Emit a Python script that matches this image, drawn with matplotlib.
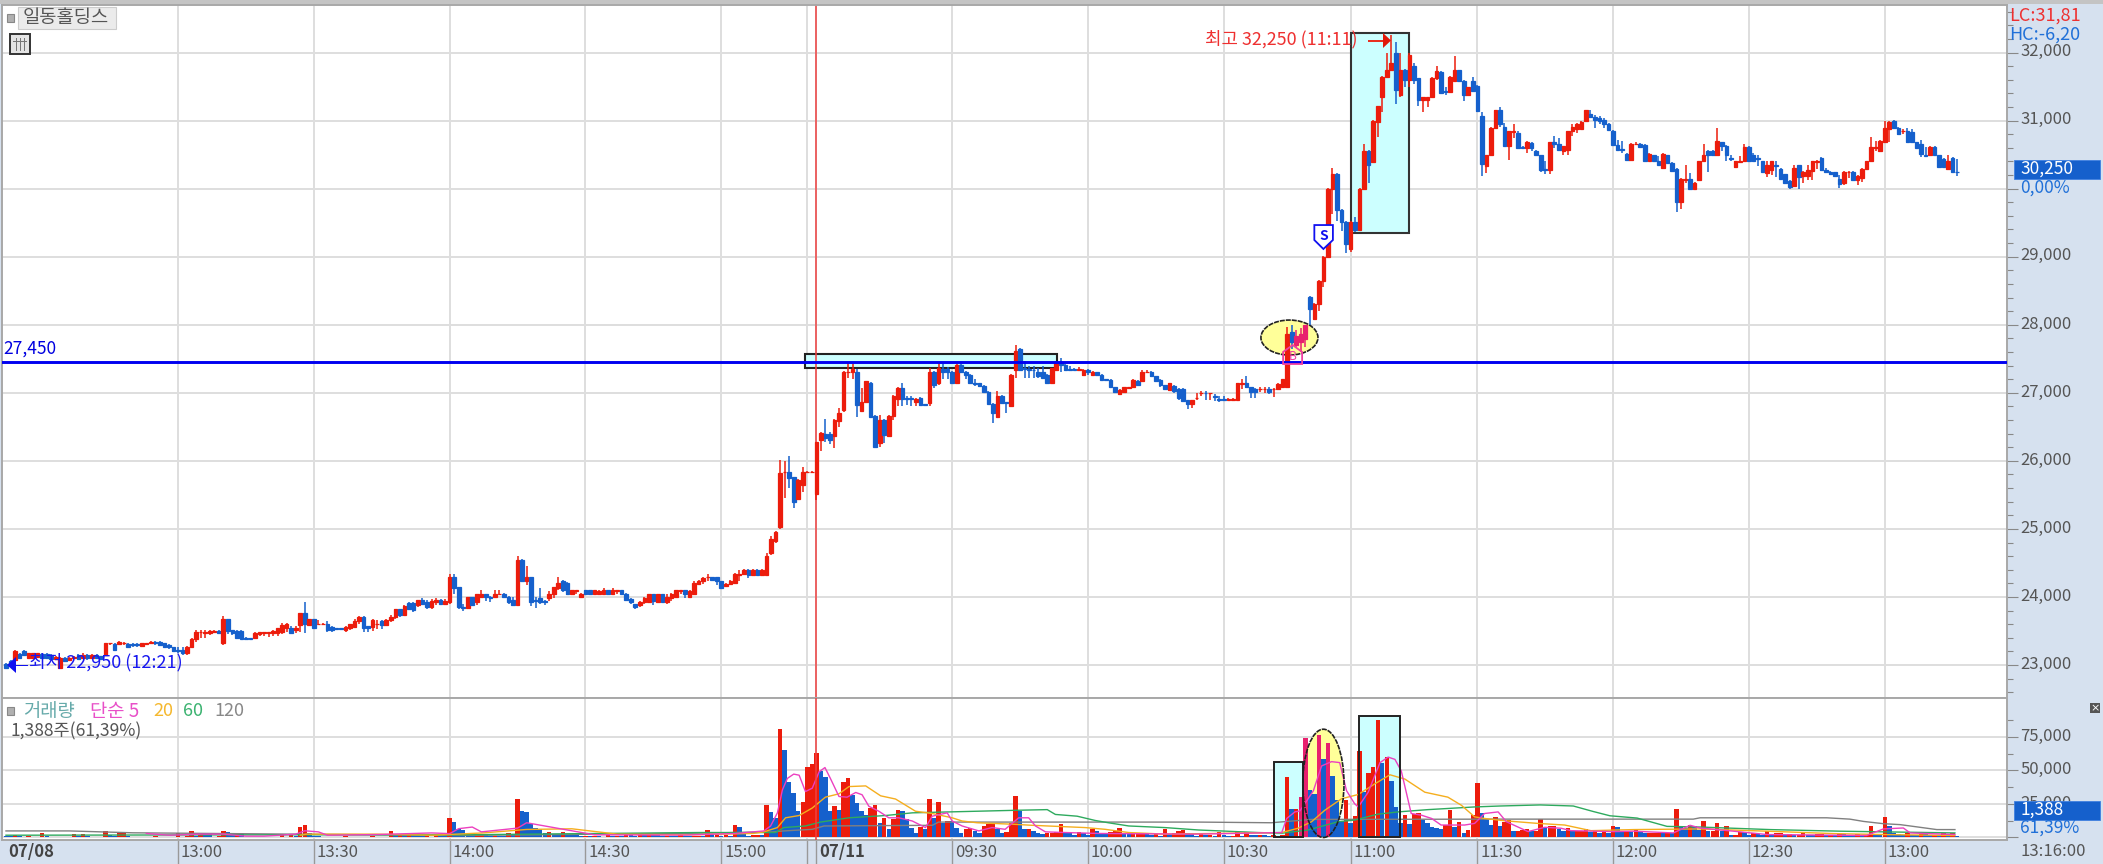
import matplotlib
matplotlib.use("Agg")
from matplotlib import pyplot as plt
from matplotlib.patches import Rectangle, Ellipse, Polygon
from matplotlib.transforms import ScaledTranslation

plt.rcParams['font.family'] = ['Noto Sans CJK KR', 'DejaVu Sans']

# 1분봉 시가/종가/고가/저가 (07/08 ~ 07/11)
opens = [
    23020, 23060, 23080, 23160, 23200, 23110, 23100, 23120, 23160, 23160,
    23150, 23090, 22950, 23110, 23080, 23110, 23150, 23100, 23150, 23110,
    23150, 23130, 23150, 23320, 23310, 23310, 23320, 23310, 23310, 23310,
    23280, 23310, 23330, 23340, 23340, 23320, 23300, 23260, 23220, 23220,
    23170, 23270, 23390, 23480, 23470, 23470, 23490, 23500, 23320, 23670,
    23510, 23500, 23500, 23400, 23400, 23400, 23450, 23470, 23470, 23470,
    23470, 23490, 23540, 23550, 23510, 23590, 23760, 23590, 23670, 23600,
    23600, 23610, 23560, 23540, 23540, 23510, 23540, 23560, 23650, 23710,
    23570, 23560, 23600, 23650, 23590, 23660, 23710, 23820, 23730, 23910,
    23910, 23880, 23950, 23930, 23850, 23920, 23960, 23900, 23920, 24290,
    24140, 23860, 23840, 24000, 23920, 24000, 24050, 24000, 24000, 24040,
    24050, 24000, 23950, 23880, 24550, 24230, 24290, 23950, 23990, 23940,
    23990, 24040, 24130, 24240, 24210, 24040, 24090, 24000, 24100, 24100,
    24050, 24050, 24050, 24100, 24050, 24090, 24100, 24050, 23970, 23890,
    23880, 23920, 23930, 24050, 23930, 24050, 23930, 23990, 24000, 24090,
    24100, 24000, 24040, 24190, 24230, 24290, 24290, 24290, 24230, 24160,
    24190, 24210, 24330, 24340, 24400, 24320, 24400, 24320, 24320, 24640,
    24830, 25030, 25830, 25840, 25760, 25440, 25650, 25830, 25830, 25510,
    26300, 26400, 26400, 26360, 26590, 26750, 27300, 27310, 27310, 26740,
    26860, 27150, 26660, 26260, 26600, 26360, 26660, 26910, 27070, 26920,
    26920, 26860, 26930, 26830, 26850, 27310, 27140, 27350, 27350, 27310,
    27140, 27410, 27310, 27260, 27140, 27140, 27100, 27010, 26840, 26650,
    26960, 26860, 26810, 27340, 27650, 27370, 27350, 27340, 27310, 27310,
    27260, 27140, 27340, 27460, 27410, 27350, 27350, 27340, 27260, 27340,
    27260, 27300, 27260, 27200, 27190, 27080, 26980, 27010, 27070, 27080,
    27180, 27180, 27300, 27310, 27240, 27190, 27110, 27040, 27100, 27060,
    27060, 26890, 26830, 26920, 26990, 27000, 26990, 26950, 26910, 26910,
    26900, 26900, 26900, 27130, 27140, 27080, 27060, 27050, 27050, 27060,
    27050, 27060, 27090, 27090, 27890, 27700, 27740, 27790, 28410, 28090,
    28300, 28650, 29000, 30000, 30220, 29680, 29510, 29120, 29510, 29390,
    30000, 30560, 30390, 30980, 31350, 31640, 31750, 32000, 31370, 31750,
    31590, 31800, 31620, 31300, 31300, 31340, 31620, 31720, 31430, 31420,
    31580, 31740, 31580, 31370, 31580, 31510, 31070, 30330, 30490, 30890,
    31150, 30900, 30630, 30830, 30810, 30610, 30600, 30670, 30560, 30490,
    30290, 30280, 30690, 30660, 30560, 30570, 30840, 30880, 30880, 31000,
    31100, 31050, 31040, 31010, 30950, 30850, 30640, 30580, 30510, 30420,
    30650, 30660, 30640, 30410, 30490, 30410, 30300, 30490, 30380, 30290,
    29800, 30130, 30140, 30000, 30130, 30400, 30560, 30560, 30490, 30680,
    30630, 30450, 30320, 30390, 30400, 30610, 30490, 30450, 30400, 30230,
    30270, 30340, 30290, 30210, 30110, 30040, 30340, 30190, 30190, 30260,
    30390, 30450, 30270, 30250, 30240, 30140, 30090, 30240, 30250, 30130,
    30160, 30290, 30400, 30600, 30550, 30680, 30880, 31000, 30890, 30840,
    30850, 30830, 30680, 30660, 30490, 30490, 30610, 30490, 30440, 30290,
    30450, 30250,
]
closes = [
    22950, 23000, 23210, 23100, 23150, 23170, 23170, 23170, 23100, 23100,
    23090, 23120, 23110, 23060, 23110, 23120, 23090, 23150, 23100, 23150,
    23110, 23090, 23320, 23330, 23220, 23340, 23330, 23270, 23300, 23300,
    23320, 23320, 23340, 23320, 23300, 23270, 23260, 23210, 23210, 23170,
    23270, 23390, 23490, 23490, 23490, 23500, 23500, 23470, 23680, 23500,
    23470, 23400, 23390, 23390, 23390, 23470, 23480, 23480, 23480, 23500,
    23540, 23590, 23600, 23470, 23550, 23760, 23600, 23670, 23550, 23610,
    23610, 23510, 23510, 23530, 23530, 23560, 23600, 23650, 23710, 23540,
    23540, 23660, 23610, 23590, 23660, 23710, 23820, 23730, 23870, 23820,
    23810, 23950, 23900, 23850, 23940, 23960, 23890, 23940, 24290, 24130,
    23850, 23840, 24000, 23880, 24040, 24050, 24000, 23990, 24050, 24050,
    24000, 23930, 23880, 24550, 24230, 24290, 23930, 23940, 23930, 23930,
    24050, 24140, 24210, 24110, 24040, 24100, 24100, 24050, 24050, 24050,
    24100, 24090, 24100, 24050, 24100, 24100, 24050, 23960, 23920, 23860,
    23920, 23990, 24050, 23940, 24050, 23930, 24000, 24050, 24100, 24100,
    24040, 24090, 24210, 24240, 24280, 24300, 24250, 24230, 24130, 24190,
    24240, 24340, 24340, 24400, 24320, 24400, 24320, 24400, 24600, 24850,
    24960, 25820, 25840, 25750, 25400, 25720, 25840, 25840, 25840, 26270,
    26410, 26330, 26300, 26600, 26710, 27310, 27310, 27350, 26820, 26870,
    27170, 26650, 26200, 26600, 26380, 26660, 26960, 27070, 26910, 26910,
    26910, 26910, 26820, 26820, 27310, 27120, 27360, 27310, 27310, 27140,
    27410, 27310, 27260, 27140, 27130, 27100, 27010, 26840, 26700, 26960,
    26850, 26850, 27260, 27620, 27340, 27350, 27340, 27330, 27240, 27220,
    27140, 27360, 27460, 27410, 27340, 27340, 27340, 27350, 27340, 27310,
    27310, 27260, 27190, 27190, 27080, 27010, 27040, 27080, 27080, 27190,
    27120, 27300, 27310, 27240, 27170, 27110, 27060, 27140, 27020, 26920,
    26880, 26830, 26890, 26930, 27000, 26990, 27000, 26940, 26900, 26900,
    26910, 26910, 27140, 27140, 27090, 27010, 27010, 27060, 27060, 27010,
    27060, 27130, 27200, 27870, 27740, 27840, 27870, 27990, 28230, 28310,
    28650, 29000, 30000, 30220, 29690, 29510, 29190, 29510, 29390, 30000,
    30560, 30340, 31000, 31210, 31640, 31750, 31840, 31450, 31750, 31600,
    31960, 31590, 31300, 31340, 31340, 31630, 31730, 31410, 31420, 31640,
    31740, 31580, 31370, 31490, 31440, 31140, 30360, 30490, 30890, 31150,
    30950, 30630, 30840, 30840, 30600, 30600, 30690, 30590, 30490, 30280,
    30280, 30680, 30660, 30570, 30620, 30840, 30900, 30950, 30980, 31150,
    31050, 31010, 31000, 30950, 30860, 30640, 30570, 30570, 30420, 30660,
    30660, 30610, 30410, 30510, 30410, 30350, 30510, 30380, 30260, 29800,
    30140, 30140, 30000, 30090, 30400, 30500, 30490, 30490, 30700, 30630,
    30490, 30440, 30400, 30400, 30610, 30400, 30400, 30440, 30240, 30340,
    30400, 30330, 30140, 30090, 30030, 30310, 30170, 30250, 30270, 30400,
    30400, 30270, 30250, 30210, 30190, 30070, 30250, 30250, 30130, 30190,
    30290, 30400, 30610, 30610, 30700, 30890, 30980, 30890, 30800, 30850,
    30680, 30680, 30600, 30510, 30480, 30610, 30490, 30320, 30320, 30400,
    30240, 30240,
]
highs = [
    23030, 23070, 23220, 23170, 23220, 23180, 23180, 23170, 23170, 23170,
    23160, 23130, 23120, 23120, 23120, 23130, 23160, 23170, 23160, 23160,
    23160, 23140, 23320, 23330, 23320, 23350, 23340, 23320, 23330, 23320,
    23330, 23330, 23360, 23350, 23360, 23330, 23310, 23270, 23260, 23260,
    23280, 23400, 23510, 23510, 23510, 23510, 23510, 23510, 23720, 23680,
    23520, 23510, 23510, 23410, 23400, 23490, 23490, 23490, 23490, 23510,
    23550, 23620, 23620, 23570, 23570, 23770, 23920, 23680, 23680, 23660,
    23620, 23640, 23570, 23550, 23550, 23570, 23610, 23680, 23720, 23720,
    23580, 23670, 23660, 23660, 23670, 23730, 23830, 23830, 23880, 23930,
    23920, 23960, 23980, 23960, 23970, 23980, 23970, 23970, 24340, 24340,
    24150, 23890, 24000, 24000, 24040, 24100, 24050, 24010, 24100, 24100,
    24060, 24010, 24000, 24600, 24560, 24450, 24300, 24000, 24130, 23960,
    24090, 24150, 24290, 24250, 24220, 24100, 24100, 24060, 24100, 24110,
    24110, 24110, 24130, 24110, 24130, 24100, 24100, 24060, 23980, 23900,
    23940, 24000, 24050, 24050, 24050, 24050, 24050, 24060, 24100, 24110,
    24110, 24100, 24240, 24250, 24300, 24340, 24300, 24300, 24240, 24200,
    24250, 24350, 24400, 24410, 24410, 24410, 24410, 24410, 24650, 24900,
    24970, 26010, 26000, 26070, 25770, 25730, 25910, 25850, 25850, 26280,
    26420, 26610, 26420, 26610, 26770, 27320, 27440, 27420, 27350, 27070,
    27180, 27160, 26670, 26680, 26610, 26670, 26970, 27080, 27150, 26960,
    26960, 26920, 26940, 26840, 27360, 27320, 27440, 27420, 27380, 27320,
    27420, 27420, 27320, 27270, 27200, 27150, 27110, 27020, 26850, 27020,
    26970, 26870, 27270, 27700, 27660, 27470, 27390, 27390, 27370, 27390,
    27270, 27370, 27470, 27510, 27420, 27390, 27360, 27380, 27350, 27350,
    27320, 27310, 27270, 27210, 27200, 27090, 27050, 27090, 27090, 27200,
    27190, 27340, 27340, 27320, 27250, 27200, 27120, 27150, 27110, 27070,
    27070, 26900, 26900, 27000, 27020, 27020, 27000, 26980, 26960, 26950,
    26920, 26920, 27150, 27200, 27250, 27090, 27070, 27080, 27080, 27080,
    27070, 27140, 27210, 27970, 27990, 27920, 27950, 28000, 28420, 28320,
    28660, 29010, 30010, 30300, 30230, 29700, 29520, 29520, 29580, 30010,
    30660, 30570, 31010, 31220, 31650, 32000, 32250, 32150, 32000, 31760,
    32000, 31850, 31630, 31350, 31350, 31640, 31800, 31730, 31500, 31650,
    31950, 31750, 31590, 31500, 31640, 31520, 31130, 30500, 30900, 31160,
    31200, 30970, 30850, 30950, 30850, 30620, 30700, 30680, 30570, 30500,
    30400, 30690, 30780, 30740, 30630, 30850, 30950, 30960, 31000, 31160,
    31150, 31080, 31070, 31040, 30960, 30860, 30720, 30700, 30520, 30670,
    30680, 30670, 30650, 30520, 30500, 30480, 30520, 30500, 30390, 30300,
    30150, 30340, 30230, 30100, 30410, 30660, 30570, 30570, 30890, 30690,
    30640, 30490, 30410, 30480, 30660, 30620, 30520, 30490, 30410, 30400,
    30410, 30410, 30300, 30220, 30120, 30340, 30350, 30260, 30340, 30410,
    30420, 30460, 30300, 30260, 30250, 30200, 30260, 30260, 30260, 30200,
    30300, 30410, 30760, 30700, 30710, 31000, 31000, 31010, 30900, 30880,
    30890, 30880, 30690, 30710, 30610, 30620, 30620, 30500, 30450, 30490,
    30460, 30430,
]
lows = [
    22950, 22990, 23070, 23090, 23140, 23100, 23090, 23110, 23090, 23090,
    23070, 23080, 22950, 23050, 23070, 23090, 23080, 23090, 23080, 23100,
    23100, 23090, 23140, 23300, 23200, 23300, 23300, 23260, 23270, 23270,
    23270, 23290, 23320, 23300, 23290, 23260, 23240, 23190, 23180, 23150,
    23150, 23260, 23340, 23400, 23400, 23440, 23470, 23450, 23290, 23450,
    23440, 23390, 23380, 23390, 23390, 23380, 23420, 23420, 23410, 23430,
    23430, 23460, 23490, 23460, 23470, 23480, 23470, 23570, 23540, 23590,
    23590, 23490, 23490, 23510, 23510, 23490, 23510, 23540, 23600, 23490,
    23480, 23500, 23530, 23530, 23580, 23630, 23680, 23700, 23720, 23810,
    23780, 23860, 23880, 23830, 23830, 23880, 23880, 23880, 23900, 24040,
    23830, 23790, 23830, 23870, 23880, 23980, 23940, 23930, 23990, 24030,
    23990, 23890, 23880, 23870, 24220, 24180, 23870, 23840, 23890, 23880,
    23940, 23990, 24100, 24080, 24030, 24030, 24040, 23990, 24050, 24040,
    24040, 24040, 24040, 24040, 24040, 24050, 24040, 23950, 23890, 23830,
    23860, 23900, 23920, 23880, 23930, 23930, 23900, 23940, 23980, 24040,
    23980, 23980, 24030, 24180, 24190, 24240, 24240, 24180, 24120, 24150,
    24180, 24200, 24230, 24330, 24280, 24310, 24310, 24320, 24320, 24620,
    24790, 25000, 25450, 25600, 25310, 25420, 25550, 25830, 25830, 25430,
    26150, 26280, 26250, 26190, 26500, 26720, 27220, 27210, 26650, 26730,
    26850, 26640, 26190, 26200, 26260, 26350, 26600, 26810, 26800, 26820,
    26810, 26800, 26800, 26810, 26810, 27070, 27120, 27210, 27210, 27130,
    27130, 27300, 27200, 27130, 27100, 27090, 27000, 26830, 26550, 26640,
    26840, 26700, 26800, 27220, 27330, 27220, 27220, 27220, 27220, 27210,
    27130, 27130, 27330, 27310, 27320, 27320, 27330, 27330, 27250, 27260,
    27250, 27240, 27180, 27180, 27070, 26990, 26970, 27000, 27060, 27070,
    27110, 27170, 27290, 27230, 27160, 27080, 27040, 27030, 27000, 26900,
    26870, 26760, 26780, 26890, 26950, 26890, 26900, 26880, 26870, 26890,
    26890, 26890, 26890, 27050, 27070, 26930, 26930, 27010, 26990, 26980,
    26940, 27050, 27080, 27080, 27650, 27680, 27600, 27680, 28000, 28070,
    28200, 28550, 28990, 29620, 29520, 29380, 29050, 29070, 29370, 29380,
    29990, 30080, 30380, 30760, 31130, 31630, 31740, 31250, 31340, 31500,
    31500, 31530, 31210, 31130, 31200, 31330, 31600, 31400, 31380, 31410,
    31570, 31570, 31290, 31360, 31430, 31130, 30190, 30230, 30480, 30880,
    30900, 30620, 30420, 30740, 30590, 30590, 30530, 30550, 30480, 30250,
    30220, 30220, 30600, 30560, 30500, 30500, 30780, 30820, 30870, 30990,
    31040, 30890, 30950, 30890, 30850, 30630, 30560, 30530, 30410, 30410,
    30640, 30600, 30400, 30400, 30400, 30340, 30290, 30370, 30250, 29650,
    29700, 30090, 29990, 29990, 30120, 30390, 30240, 30480, 30480, 30560,
    30400, 30400, 30310, 30380, 30390, 30390, 30390, 30330, 30230, 30170,
    30200, 30170, 30130, 30080, 30000, 30030, 30000, 30080, 30130, 30130,
    30290, 30260, 30240, 30200, 30180, 30010, 30060, 30160, 30120, 30060,
    30100, 30280, 30390, 30550, 30540, 30670, 30680, 30880, 30790, 30800,
    30670, 30670, 30590, 30460, 30470, 30480, 30480, 30310, 30310, 30280,
    30230, 30190,
]

# 거래량
volumes = [
    1200, 800, 1500, 800, 700, 800, 600, 700, 3700, 1100,
    600, 500, 700, 600, 500, 2500, 800, 2500, 900, 600,
    500, 400, 5000, 1500, 800, 3000, 3000, 900, 600, 500,
    500, 700, 500, 800, 500, 600, 500, 400, 3700, 600,
    1000, 4700, 1200, 3000, 2900, 2800, 500, 1000, 4700, 4000,
    2800, 2800, 2500, 700, 500, 600, 400, 600, 500, 400,
    500, 2500, 700, 2500, 900, 7800, 9000, 3000, 1000, 900,
    700, 500, 600, 500, 400, 800, 500, 600, 400, 700,
    600, 800, 700, 500, 600, 5000, 2000, 2500, 1800, 2400,
    1800, 1500, 800, 1200, 700, 1800, 1000, 900, 14700, 11500,
    6600, 5500, 3000, 1000, 1500, 2500, 1500, 1000, 1200, 900,
    800, 3000, 1500, 29000, 20000, 19000, 10000, 7000, 6000, 3000,
    4000, 2000, 1500, 3800, 2500, 2000, 1500, 900, 1000, 800,
    1000, 800, 700, 1500, 800, 1000, 900, 1800, 1500, 1000,
    2000, 1500, 2500, 2000, 1500, 900, 1200, 1000, 800, 1500,
    1000, 800, 900, 1200, 900, 5600, 1500, 2000, 900, 1500,
    1200, 9000, 7800, 3700, 1200, 2000, 2000, 1800, 24500, 18900,
    14700, 81300, 65000, 41600, 33000, 19600, 26200, 52700, 55100, 63000,
    49500, 45300, 19600, 23300, 20800, 41600, 44100, 31800, 25700, 19600,
    17000, 22000, 24500, 11000, 14700, 6600, 13500, 20800, 19600, 13500,
    7350, 3700, 7800, 6100, 28700, 14700, 26200, 11000, 12250, 12000,
    7350, 3700, 6100, 7350, 4900, 3700, 8600, 9800, 11000, 6100,
    3700, 4400, 11000, 31100, 19600, 6100, 6100, 4900, 3700, 2500,
    3700, 3700, 4200, 9800, 3700, 3200, 1700, 4200, 3700, 1700,
    6100, 5000, 3700, 3400, 4200, 4900, 7350, 3700, 2500, 2500,
    3700, 3700, 2500, 2000, 2500, 1200, 6600, 2500, 3700, 4900,
    5600, 3200, 2500, 1200, 2500, 1500, 2000, 1200, 4000, 2000,
    1200, 1200, 4000, 800, 4000, 2000, 1700, 2000, 1500, 1200,
    1700, 1200, 1700, 44800, 21600, 21600, 30000, 74000, 35500, 32600,
    76700, 58300, 70600, 46100, 27700, 12000, 28200, 11000, 15900, 64900,
    33800, 48500, 52700, 87700, 55900, 60000, 42400, 22800, 10500, 17150,
    9800, 17900, 18000, 13000, 10500, 8000, 7000, 6100, 9300, 20800,
    8000, 11800, 3700, 5600, 16700, 40400, 18400, 14000, 9300, 15000,
    8300, 11800, 13000, 4500, 4600, 5600, 6400, 4600, 4600, 13700,
    7000, 8300, 8300, 6600, 4600, 7000, 4600, 4600, 4600, 6600,
    4000, 4600, 3500, 4600, 3500, 8800, 7600, 4600, 4600, 4000,
    6600, 3900, 3500, 3500, 3500, 3500, 3000, 3500, 3000, 21000,
    8300, 7000, 9500, 8300, 5800, 12000, 4600, 4600, 10800, 4600,
    8800, 1500, 1500, 4200, 4000, 2000, 3000, 2500, 2000, 4600,
    2500, 3000, 3700, 2000, 2500, 1500, 2000, 3000, 1700, 1500,
    2500, 2700, 1700, 2000, 1500, 2500, 2300, 2000, 1500, 2500,
    1700, 2000, 8300, 2500, 2000, 15200, 8300, 3700, 2500, 2000,
    3000, 2000, 1500, 2500, 2300, 1800, 2000, 1500, 3000, 2500,
    3000, 1388,
]

# 거래량 이동평균선 (그림에서 읽은 점들)
ma5_x = [31, 36, 43, 48, 53, 57, 64, 66, 69, 71, 82, 94, 98, 100, 103, 105,
         113, 115, 120, 130, 150, 161, 167.4, 168.9, 170.4, 171.5, 172.6, 174, 175.2, 176.6,
         178.1, 179.6, 180.9, 182.1, 184, 185.8, 187.7, 189.1, 190.6, 192.8,
         195, 197.2, 200.2, 203.1, 204.6, 207.9, 209, 211.2, 214.9, 217.8,
         220.7, 223.7, 225.9, 227.4, 229.6, 234, 241.4, 262.7, 281.8, 282.9,
         284.7, 285.8, 286.9, 288.8, 290.6, 292.8, 294.6, 296.1, 297.9, 298.7,
         300.9, 303.5, 305.3, 306.8, 308.2, 310.4, 312.6, 314.9, 317, 322.2,
         324.4, 326.6, 329.6, 331.4, 336.2, 339.9, 343.5, 345.7, 355.3, 359.5,
         368.3, 372, 374.2, 381.6, 389, 411, 414.7, 419.1, 420.6, 430.5]
ma5_y = [3000, 1700, 2500, 2500, 1000, 1000, 2500, 5000, 4200, 1700, 2200, 3400, 2900, 6600, 7800, 4200,
         7000, 11000, 8000, 2000, 1800, 3000, 4900, 8600, 18400, 35500, 44100, 47300, 46500, 34300,
         36800, 49000, 52200, 44100, 30600, 30100, 33600, 31900, 23300, 19600,
         14700, 14700, 12300, 7400, 15900, 18400, 12300, 8600, 4900, 7400,
         6100, 14700, 14700, 8600, 4200, 3700, 3000, 2500, 3700, 14200,
         19100, 19800, 25200, 35000, 53400, 56600, 55900, 35000, 25200, 22800,
         33800, 55900, 60000, 58300, 49700, 17900, 16700, 14200, 9300, 9300,
         10500, 17900, 19100, 11800, 4400, 7600, 6900, 5100, 4400, 4700,
         3400, 9100, 7100, 4700, 2200, 1500, 6400, 7100, 3400, 2200]
ma20_x = [65, 66.3, 81.8, 94.3, 105.3, 115, 125, 135, 150, 165,
          167.4, 170.4, 172.2, 175.2, 178.1, 181, 184, 186.2, 189.9, 193.2,
          196.5, 200.9, 204.6, 209, 211.2, 214.5, 223, 226.6, 238.4, 242.8,
          248, 256, 281.8, 285.4, 288.4, 291.3, 295, 298.7, 302.3, 305.7,
          309, 313.4, 318.5, 321.5, 324.4, 326.6, 331, 338.4, 344.3, 350.1,
          359.5, 374.2, 389, 403.7, 414.7, 430.5]
ma20_y = [1700, 2500, 2500, 1700, 3400, 6000, 6500, 2500, 2000, 3000,
          4200, 7400, 14700, 16400, 22000, 30100, 32600, 38000, 38500, 31100,
          28700, 19600, 17900, 14700, 12300, 11000, 9800, 9100, 7400, 6100,
          3700, 2500, 3700, 6900, 11800, 20300, 28900, 32100, 39900, 46800,
          43600, 33800, 30100, 24000, 15400, 14200, 12500, 10500, 9300, 5100,
          5900, 6400, 4700, 2900, 2200, 1500]
ma60_x = [0, 60, 100, 153, 170, 171.8, 176.6, 179.9, 186.2, 194.3,
          200.2, 206, 223, 230, 231.8, 236.6, 240.6, 243.5, 248, 256,
          263.4, 276.6, 281.8, 287.6, 294.3, 297.9, 303, 307.5, 314.1, 324.4,
          330, 338.9, 346.2, 350.6, 354.3, 360.3, 366.9, 374.2, 389.7, 405.2, 430.5]
ma60_y = [1700, 2000, 2000, 3700, 3700, 7400, 8600, 11500, 14700, 16400,
          18400, 18900, 20300, 20800, 17200, 15900, 12700, 11000, 8600, 7400,
          5600, 3700, 3200, 5600, 11800, 13000, 17400, 19100, 20800, 22800,
          23500, 24300, 23500, 19400, 16200, 14500, 8300, 7800, 5900, 4700, 3400]
ma120_x = [0, 14, 28, 100, 153, 169.3, 171.8, 178.1, 180.7, 204.6, 206,
           263.4, 279.5, 288.4, 330, 372.7, 374.2, 402.2, 407.3, 410.3,
           414.7, 418.4, 422.8, 426.5, 430.5]
ma120_y = [4900, 4900, 3500, 1500, 3200, 4200, 4900, 6100, 8600, 9100, 11500,
           11500, 11000, 13500, 13700, 13700, 14700, 14700, 13700, 12000,
           10300, 9600, 7600, 5900, 5900]

# 축 눈금
time_ticks = [38, 68, 98, 128, 158, 177, 179, 209, 239, 269, 297, 325, 355, 385, 415]
date_labels = {-0.2: "07/08", 179: "07/11"}
time_labels = {38: "13:00", 68: "13:30", 98: "14:00", 128: "14:30", 158: "15:00",
               209: "09:30", 239: "10:00", 269: "10:30", 297: "11:00", 325: "11:30",
               355: "12:00", 385: "12:30", 415: "13:00"}
price_ticks = [23000, 24000, 25000, 26000, 27000, 28000, 29000, 30000, 31000, 32000]
# 30,000 자리는 0,00% 글자가 차지한다
price_labels = ["23,000", "24,000", "25,000", "26,000", "27,000", "28,000", "29,000", "", "31,000", "32,000"]
vol_ticks = [0, 25000, 50000, 75000]

W, H = 2103, 864
RED = "#EC1C0C"
BLUE = "#1560CC"
PINK = "#E8206E"
PANEL = "#D6E1EF"
GRID = "#DEDEDE"
GRAY = "#555555"
XLIM = (-0.88, 442)


def px_axes(x0, y0, x1, y1):
    return fig.add_axes([x0 / W, 1 - y1 / H, (x1 - x0) / W, (y1 - y0) / H])


def px_text(x, y, s, **kw):
    kw.setdefault("va", "center")
    kw.setdefault("zorder", 7)
    fig.text(x / W, 1 - y / H, s, **kw)


def px_box(x0, y0, x1, y1, **kw):
    fig.add_artist(Rectangle((x0 / W, 1 - y1 / H), (x1 - x0) / W, (y1 - y0) / H,
                             transform=fig.transFigure, **kw))


fig = plt.figure(figsize=(W / 100, H / 100), dpi=100, facecolor=PANEL)
px_box(0, 0, W, 4, facecolor="#C4C4C4", edgecolor="none", zorder=3)

ax = px_axes(2, 5, 2007, 698)
vax = px_axes(2, 698, 2007, 840)

x = list(range(len(closes)))

# ---------- 가격 차트 ----------
ax.set_xlim(*XLIM)
ax.set_ylim(22516, 32698)
ax.add_patch(Rectangle((297.1, 29352), 12.8, 2935, facecolor="#CCFFFF", edgecolor="#333333", lw=1.5, zorder=1))
ax.add_patch(Rectangle((176.4, 27369), 55.7, 201, facecolor="#CCFFFF", edgecolor="#222222", lw=1.5, zorder=1))
ax.add_patch(Ellipse((283.5, 27812), 12.6, 514, facecolor="#FFFF99", edgecolor="#222222", lw=1.2, ls=(0, (3, 0.6)), zorder=1))
ax.axvline(179, color="#F04040", lw=1.1, zorder=1.5)

colors = [RED if c >= o else BLUE for o, c in zip(opens, closes)]
for i in [284, 285, 286, 287]:
    if colors[i] == RED:
        colors[i] = PINK
ax.vlines(x, lows, highs, colors=colors, lw=1.1, zorder=2)
ax.bar(x, [abs(c - o) for o, c in zip(opens, closes)], bottom=[min(o, c) for o, c in zip(opens, closes)],
       width=0.8, color=colors, edgecolor=colors, lw=0.9, zorder=2.5)

ax.axhline(27450, color="#0000F0", lw=2.1, zorder=4)

# S, B 표시
ax.add_patch(Polygon([(289, 29465), (293.1, 29465), (293.1, 29245), (291, 29113), (289, 29245)],
                     facecolor="white", edgecolor="#1010F0", lw=1.3, zorder=5))
ax.text(291.05, 29310, "S", color="#1010F0", fontsize=10, fontweight="bold", ha="center", va="center", zorder=6)
ax.add_patch(Polygon([(282.1, 27423), (282.1, 27600), (284.2, 27702), (286.3, 27600), (286.3, 27423)],
                     facecolor="none", edgecolor="#F040A0", lw=1.3, zorder=5))
ax.text(284.2, 27530, "B", color="#F040A0", fontsize=8.5, ha="center", va="center", zorder=6)

ax.set_yticks(price_ticks)
ax.set_yticklabels(price_labels, fontsize=12, color=GRAY)
ax.set_yticks(range(22600, 32700, 200), minor=True)
ax.yaxis.tick_right()
ax.tick_params(axis="y", which="major", length=8, width=0.8, color="#888888", pad=1.5)
ax.tick_params(axis="y", which="minor", length=4, width=0.8, color="#888888")
ax.set_xticks(time_ticks)
ax.tick_params(axis="x", length=0, labelbottom=False)
ax.grid(True, which="major", color=GRID, lw=1.4, zorder=0)
ax.set_axisbelow(True)

# ---------- 거래량 차트 ----------
vax.set_xlim(*XLIM)
vax.set_ylim(-1870, 104100)
vax.add_patch(Rectangle((280, 0), 6.4, 56150, facecolor="#CCFFFF", edgecolor="none", zorder=1))
vax.add_patch(Rectangle((298.9, 0), 9, 90700, facecolor="#CCFFFF", edgecolor="none", zorder=1))
vax.add_patch(Ellipse((291, 40400), 9.1, 80800, facecolor="#FFFF99", edgecolor="none", zorder=1))

vol_colors = [BLUE]
for i in range(1, len(volumes)):
    vol_colors.append(RED if volumes[i] >= volumes[i - 1] else BLUE)
for i in range(286, 296):
    if vol_colors[i] == RED:
        vol_colors[i] = PINK
vax.bar(x, volumes, width=0.98, color=vol_colors, lw=0, zorder=2)

vax.plot(ma120_x, ma120_y, color="#808080", lw=1.0, zorder=3)
vax.plot(ma60_x, ma60_y, color="#2EAA5E", lw=1.0, zorder=3.1)
vax.plot(ma20_x, ma20_y, color="#F5AE1E", lw=1.0, zorder=3.2)
vax.plot(ma5_x, ma5_y, color="#EC40C0", lw=1.0, zorder=3.3)

vax.add_patch(Rectangle((280, 0), 6.4, 56150, facecolor="none", edgecolor="#222222", lw=1.4, zorder=4))
vax.add_patch(Rectangle((298.9, 0), 9, 90700, facecolor="none", edgecolor="#222222", lw=1.4, zorder=4))
vax.add_patch(Ellipse((291, 40400), 9.1, 80800, facecolor="none", edgecolor="#222222", lw=1.2, ls=(0, (3, 0.6)), zorder=4))
vax.axvline(179, color="#F04040", lw=1.1, zorder=5)

vax.set_yticks(vol_ticks)
vax.set_yticklabels(["", "25,000", "50,000", "75,000"], fontsize=12, color=GRAY)
vax.set_yticks([12500, 37500, 62500, 87500], minor=True)
vax.yaxis.tick_right()
vax.tick_params(axis="y", which="major", length=8, width=0.8, color="#888888", pad=1.5)
vax.tick_params(axis="y", which="minor", length=4, width=0.8, color="#888888")
vax.set_xticks(time_ticks)
vax.tick_params(axis="x", length=17, width=1.0, color="#999999", labelbottom=False)
vax.grid(True, which="major", color=GRID, lw=1.4, zorder=0)
vax.set_axisbelow(True)

for a in (ax, vax):
    for s in a.spines.values():
        s.set_color("#A8A8A8")
        s.set_linewidth(1.4)
    # 눈금 글자를 격자선보다 조금 위로
    for lab in a.get_yticklabels():
        lab.set_transform(lab.get_transform() + ScaledTranslation(0, 2 / 72, fig.dpi_scale_trans))

# 시간 라벨
for idx, lab in time_labels.items():
    vax.annotate(lab, xy=(idx, 0), xycoords=vax.get_xaxis_transform(), xytext=(2, -9),
                 textcoords="offset points", fontsize=12, color=GRAY, va="center", ha="left",
                 annotation_clip=False)
for idx, lab in date_labels.items():
    vax.annotate(lab, xy=(idx, 0), xycoords=vax.get_xaxis_transform(), xytext=(2, -9),
                 textcoords="offset points", fontsize=12, color="#444444", fontweight="bold",
                 va="center", ha="left", annotation_clip=False)
px_text(2020, 852, "13:16:00", fontsize=12, color=GRAY)

# ---------- 글자 ----------
px_box(7, 14, 14, 22, facecolor="#B0B0B0", edgecolor="#888888", lw=0.8, zorder=6)
px_box(18, 7, 116, 29, facecolor="#EBEBEB", edgecolor="#CCCCCC", lw=0.8, zorder=6)
px_text(23, 18, "일동홀딩스", fontsize=13.5, color=GRAY)
px_box(10, 34, 30, 54, facecolor="#E4E4E4", edgecolor="#333333", lw=1.4, zorder=6)
for gx in (16, 20, 24):
    px_box(gx, 38, gx + 0.5, 51, facecolor="#777777", edgecolor="none", zorder=6.5)
px_box(13, 41, 27, 41.5, facecolor="#777777", edgecolor="none", zorder=6.5)

px_text(3, 349, "27,450", fontsize=12.5, color="#0000E0")
px_text(1205, 39, "최고 32,250 (11:11)", fontsize=12.9, color="#EE3030")
px_box(1368, 40, 1386, 41.5, facecolor="#E83020", edgecolor="none", zorder=6)
fig.add_artist(Polygon([(1383 / W, 1 - 33 / H), (1391 / W, 1 - 40.5 / H), (1383 / W, 1 - 48 / H)],
                       transform=fig.transFigure, facecolor="#E01808", edgecolor="none", zorder=6))
px_box(15, 664.5, 28, 666, facecolor="#1010F0", edgecolor="none", zorder=6)
fig.add_artist(Polygon([(16 / W, 1 - 657 / H), (7 / W, 1 - 665 / H), (16 / W, 1 - 673 / H)],
                       transform=fig.transFigure, facecolor="#1010F0", edgecolor="none", zorder=6))
px_text(29, 662, "최저 22,950 (12:21)", fontsize=13, color="#1818F0")

# 거래량 범례
px_box(7, 707, 14, 715, facecolor="#B0B0B0", edgecolor="#888888", lw=0.8, zorder=6)
px_text(23, 711, "거래량", fontsize=13.5, color="#66AAAA")
px_text(90, 711, "단순 5", fontsize=13.5, color="#E850C8")
px_text(153, 711, "20", fontsize=13, color="#F5B82E")
px_text(183, 711, "60", fontsize=13, color="#3CB371")
px_text(214, 711, "120", fontsize=13, color="#888888")
px_text(10, 731, "1,388주(61,39%)", fontsize=12.6, color=GRAY)

# 오른쪽 패널
px_text(2009, 16, "LC:31,81", fontsize=13, color="#EE3030")
px_text(2009, 35, "HC:-6,20", fontsize=13, color="#2070D8")
px_box(2014, 160, 2100, 179, facecolor=BLUE, edgecolor="#4080E0", lw=0.6, zorder=6)
px_text(2020, 169, "30,250", fontsize=12.5, color="white")
px_text(2020, 188, "0,00%", fontsize=12.5, color="#2070D8")
px_box(2014, 801, 2100, 820, facecolor=BLUE, edgecolor="#4080E0", lw=0.6, zorder=6)
px_text(2020, 810, "1,388", fontsize=12.5, color="white")
px_text(2020, 828, "61,39%", fontsize=12.5, color="#2070D8")
px_box(2090, 703, 2100, 713, facecolor="#555555", edgecolor="none", zorder=6)
px_text(2095, 708, "×", fontsize=8, color="white", ha="center", family="DejaVu Sans")

fig.savefig("out.png", dpi=100, facecolor=fig.get_facecolor())
